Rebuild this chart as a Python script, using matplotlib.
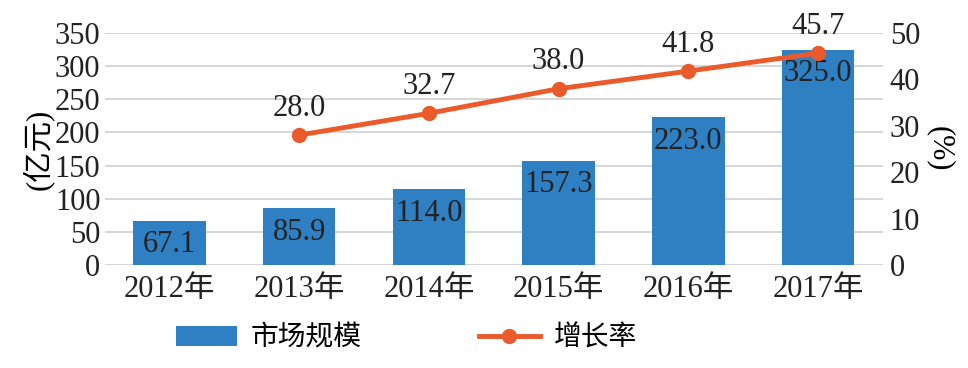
import matplotlib
matplotlib.use("Agg")
import matplotlib.pyplot as plt
import numpy as np

plt.rcParams['font.family'] = ['Liberation Serif', 'Noto Sans CJK SC']

years = ["2012年", "2013年", "2014年", "2015年", "2016年", "2017年"]
market = [67.1, 85.9, 114.0, 157.3, 223.0, 325.0]
growth_years = ["2013年", "2014年", "2015年", "2016年", "2017年"]
growth = [28.0, 32.7, 38.0, 41.8, 45.7]

bar_color = "#2F80C3"
line_color = "#EA5A2A"
fs = 22
text_color = "#222222"

fig = plt.figure(figsize=(9.68, 3.68), dpi=100)
ax = fig.add_axes([0.108, 0.28, 0.804, 0.63])
x = np.arange(len(years))
bars = ax.bar(x, market, width=0.56, color=bar_color, zorder=2, label="市场规模")
for xi, v in zip(x, market):
    ax.annotate(f"{v:.1f}", (xi, v), xytext=(0, -7), textcoords="offset points",
                ha="center", va="top", fontsize=fs, color=text_color, zorder=3)
ax.set_ylim(0, 350)
ax.set_yticks(range(0, 351, 50))
ax.set_xlim(-0.5, len(years) - 0.5)
ax.set_xticks(x)
ax.set_xticklabels(years)
ax.grid(axis="y", color="#D0D0D0", linewidth=1.2, zorder=0)
ax.set_axisbelow(True)
for s in ax.spines.values():
    s.set_visible(False)
ax.tick_params(length=0, labelsize=fs, pad=3, colors=text_color)
ax.tick_params(axis="x", pad=7)
ax.set_ylabel("(亿元)", fontsize=fs, labelpad=0)

ax2 = ax.twinx()
gx = [years.index(g) for g in growth_years]
line, = ax2.plot(gx, growth, color=line_color, linewidth=3.5, marker="o",
                 markersize=10, zorder=4, label="增长率")
for xi, v in zip(gx, growth):
    ax2.annotate(f"{v:.1f}", (xi, v), xytext=(0, 9), textcoords="offset points",
                 ha="center", va="bottom", fontsize=fs, color=text_color)
ax2.set_ylim(0, 50)
ax2.set_yticks(range(0, 51, 10))
for s in ax2.spines.values():
    s.set_visible(False)
ax2.tick_params(length=0, labelsize=fs, pad=5, colors=text_color)
ax2.set_ylabel("(%)", fontsize=fs, labelpad=4, rotation=270, va="bottom")

fig.legend([bars, line], ["市场规模", "增长率"], loc="center",
           bbox_to_anchor=(0.42, 0.08), ncol=2, frameon=False, fontsize=20,
           handlelength=2.2, columnspacing=4.2, handletextpad=0.5)

fig.savefig("out.png", dpi=100)
